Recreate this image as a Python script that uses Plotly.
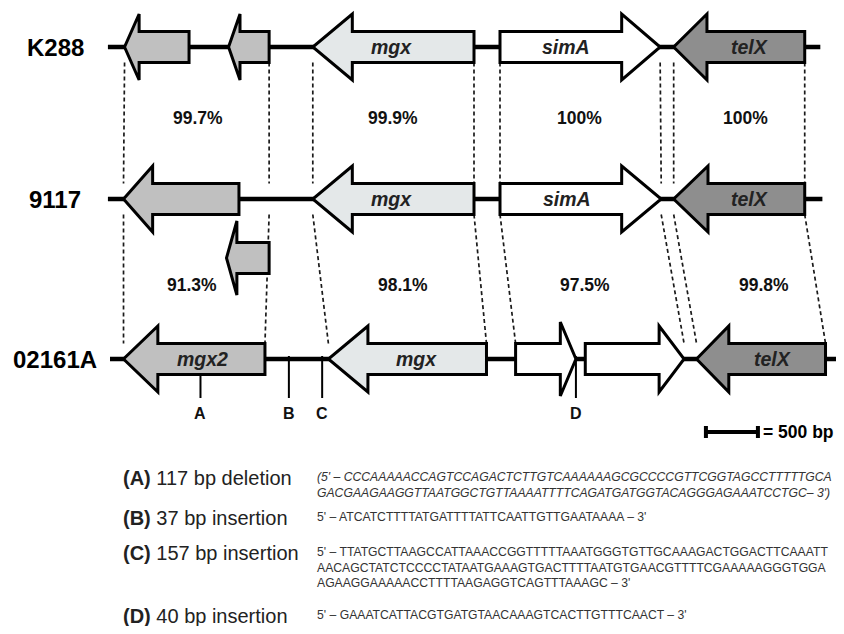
import plotly.graph_objects as go

# ---------------- data (positions in bp) ----------------
genomes = ["K288", "9117", "02161A"]

# backbone extent per genome
backbone_start = [-20, -20, 0]
backbone_end = [6830, 6850, 7020]

# genes: tail, tip, head length (bp), fill, label, label position, row offset flag
k288_tail = [760, 1530, 3500, 3750, 6680]
k288_tip = [140, 1140, 1950, 5290, 5420]
k288_head = [140, 110, 380, 370, 320]
k288_fill = ["#c0c0c0", "#c0c0c0", "#e4e8e9", "#ffffff", "#8e8e8e"]
k288_label = ["", "", "mgx", "simA", "telX"]
k288_label_x = [None, None, 2710, 4380, 6150]
k288_lower = [0, 0, 0, 0, 0]

s9117_tail = [1240, 1530, 3500, 3750, 6680]
s9117_tip = [130, 1120, 1950, 5300, 5420]
s9117_head = [280, 100, 380, 380, 330]
s9117_fill = ["#c0c0c0", "#c0c0c0", "#e4e8e9", "#ffffff", "#8e8e8e"]
s9117_label = ["", "", "mgx", "simA", "telX"]
s9117_label_x = [None, None, 2710, 4390, 6150]
s9117_lower = [0, 1, 0, 0, 0]

s02_tail = [1490, 3620, 3900, 4570, 6880]
s02_tip = [130, 2100, 4480, 5520, 5640]
s02_head = [330, 380, 150, 240, 310]
s02_fill = ["#c0c0c0", "#e4e8e9", "#ffffff", "#ffffff", "#8e8e8e"]
s02_label = ["mgx2", "mgx", "", "", "telX"]
s02_label_x = [890, 2950, None, None, 6370]
s02_lower = [0, 0, 0, 0, 0]

# homology links (top genome x -> bottom genome x)
link1_top = [140, 1530, 1950, 3500, 3750, 5290, 5420, 6680]
link1_bot = [130, 1530, 1950, 3500, 3750, 5300, 5420, 6680]
link2_top = [130, 1530, 1950, 3500, 3750, 5300, 5420, 6680]
link2_bot = [130, 1490, 2100, 3620, 3900, 5520, 5640, 6880]

identity1 = ["99.7%", "99.9%", "100%", "100%"]
identity1_x = [850, 2720, 4510, 6110]
identity2 = ["91.3%", "98.1%", "97.5%", "99.8%"]
identity2_x = [790, 2820, 4570, 6290]

marker_names = ["A", "B", "C", "D"]
marker_x = [870, 1720, 2040, 4480]

scale_bp = 500
scale_start = 5730

notes_label = ["(A)", "(B)", "(C)", "(D)"]
notes_text = ["117 bp deletion", "37 bp insertion", "157 bp insertion", "40 bp insertion"]
notes_seq = [
    ["(5' – CCCAAAAACCAGTCCAGACTCTTGTCAAAAAAGCGCCCCGTTCGGTAGCCTTTTTGCA",
     "GACGAAGAAGGTTAATGGCTGTTAAAATTTTCAGATGATGGTACAGGGAGAAATCCTGC– 3')"],
    ["5' – ATCATCTTTTATGATTTTATTCAATTGTTGAATAAAA – 3'"],
    ["5' – TTATGCTTAAGCCATTAAACCGGTTTTTAAATGGGTGTTGCAAAGACTGGACTTCAAATT",
     "AACAGCTATCTCCCCTATAATGAAAGTGACTTTTAATGTGAACGTTTTCGAAAAAGGGTGGA",
     "AGAAGGAAAAACCTTTTAAGAGGTCAGTTTAAAGC – 3'"],
    ["5' – GAAATCATTACGTGATGTAACAAAGTCACTTGTTTCAACT – 3'"],
]
notes_italic = [True, False, False, False]

# ---------------- layout constants (pixels) ----------------
W, H = 844, 634
OFF = 8  # page body margin in the browser
FW, FH = W - OFF, H - 2 * OFF  # figure fits inside the window (no scrollbars)
BP_PER_PX = 500 / 52
X0_PX = 110
row_y = [47, 199, 359]
lower_dy = 59
body_h = 15.5
head_h = 33
FONT = "Liberation Sans"


def px2bp(px):
    return (px - X0_PX) * BP_PER_PX


def paper_x(px):
    return (px - OFF) / FW


fig = go.Figure()
shapes = []
annotations = []


def arrow_path(tail, tip, head, y, bh, hh):
    d = 1 if tip > tail else -1
    base = tip - d * head
    pts = [(tail, y - bh), (base, y - bh), (base, y - hh), (tip, y),
           (base, y + hh), (base, y + bh), (tail, y + bh)]
    return "M " + " L ".join(f"{a},{b}" for a, b in pts) + " Z"


rows = [
    (k288_tail, k288_tip, k288_head, k288_fill, k288_label, k288_label_x, k288_lower),
    (s9117_tail, s9117_tip, s9117_head, s9117_fill, s9117_label, s9117_label_x, s9117_lower),
    (s02_tail, s02_tip, s02_head, s02_fill, s02_label, s02_label_x, s02_lower),
]

# dashed homology links (drawn first, beneath)
for tops, bots, y1, y2 in [(link1_top, link1_bot, row_y[0], row_y[1]),
                           (link2_top, link2_bot, row_y[1], row_y[2])]:
    for a, b in zip(tops, bots):
        shapes.append(dict(type="line", xref="x", yref="y", x0=a, y0=y1 + body_h,
                           x1=b, y1=y2 - body_h,
                           line=dict(color="#1a1a1a", width=1.7, dash="4px,3px"),
                           layer="below"))

# backbones
for i in range(3):
    shapes.append(dict(type="line", xref="x", yref="y", x0=backbone_start[i], y0=row_y[i],
                       x1=backbone_end[i], y1=row_y[i], line=dict(color="black", width=4.5)))

# genes
for i, (tails, tips, heads, fills, labels, lx, lower) in enumerate(rows):
    for t, p, h, f, lab, x, lo in zip(tails, tips, heads, fills, labels, lx, lower):
        y = row_y[i] + (lower_dy if lo else 0)
        hh = head_h + (4 if lo else 0)
        if i == 2 and p - t > 0 and abs(p - t) < 700:
            hh = head_h + 4
        shapes.append(dict(type="path", xref="x", yref="y",
                           path=arrow_path(t, p, h, y, body_h, hh),
                           fillcolor=f, line=dict(color="black", width=3)))
        if lab:
            annotations.append(dict(x=x, y=y, xref="x", yref="y", text=lab, showarrow=False,
                                    font=dict(family=FONT, size=19.5, color="#222",
                                              weight="bold", style="italic")))

# genome names
for name, y in zip(genomes, row_y):
    annotations.append(dict(x=paper_x(55), y=y, xref="paper", yref="y", text=name,
                            showarrow=False, xanchor="center",
                            font=dict(family=FONT, size=24, color="black", weight="bold")))

# identity labels
for labs, xs, y in [(identity1, identity1_x, 118), (identity2, identity2_x, 285)]:
    for lab, x in zip(labs, xs):
        annotations.append(dict(x=x, y=y, xref="x", yref="y", text=lab, showarrow=False,
                                font=dict(family=FONT, size=17.5, color="#111", weight="bold")))

# markers A-D
for name, x in zip(marker_names, marker_x):
    y_top = row_y[2] + body_h if name == "A" else row_y[2] - 3
    shapes.append(dict(type="line", xref="x", yref="y", x0=x, y0=y_top, x1=x, y1=398,
                       line=dict(color="black", width=2)))
    annotations.append(dict(x=x, y=413, xref="x", yref="y", text=name, showarrow=False,
                            font=dict(family=FONT, size=16, color="#111", weight="bold")))

# scale bar
sy = 432
shapes.append(dict(type="line", xref="x", yref="y", x0=scale_start, y0=sy,
                   x1=scale_start + scale_bp, y1=sy, line=dict(color="black", width=4)))
for xx in (scale_start, scale_start + scale_bp):
    shapes.append(dict(type="line", xref="x", yref="y", x0=xx, y0=sy - 6, x1=xx, y1=sy + 6,
                       line=dict(color="black", width=4)))
annotations.append(dict(x=scale_start + scale_bp + 30, y=sy, xref="x", yref="y",
                        text="= 500 bp", showarrow=False, xanchor="left",
                        font=dict(family=FONT, size=17.5, color="black", weight="bold")))

# notes block
note_y = [478, 518, 553, 616]
line_gap = 15.5
for lab, txt, seqs, it, y in zip(notes_label, notes_text, notes_seq, notes_italic, note_y):
    annotations.append(dict(x=paper_x(121), y=y, xref="paper", yref="y",
                            text=f"<b>{lab}</b> {txt}", showarrow=False, xanchor="left",
                            font=dict(family=FONT, size=20, color="#222")))
    for k, s in enumerate(seqs):
        annotations.append(dict(x=paper_x(315), y=y + k * line_gap - 1, xref="paper", yref="y",
                                text=s, showarrow=False, xanchor="left",
                                font=dict(family=FONT, size=12.2,
                                          color="#333", style="italic" if it else "normal")))

fig.update_layout(
    width=FW, height=FH, margin=dict(l=0, r=0, t=0, b=0),
    paper_bgcolor="white", plot_bgcolor="white",
    xaxis=dict(range=[px2bp(OFF), px2bp(W)], visible=False, fixedrange=True),
    yaxis=dict(range=[H - OFF, OFF], visible=False, fixedrange=True),
    shapes=shapes, annotations=annotations, showlegend=False,
)

fig.write_html("out.html")
